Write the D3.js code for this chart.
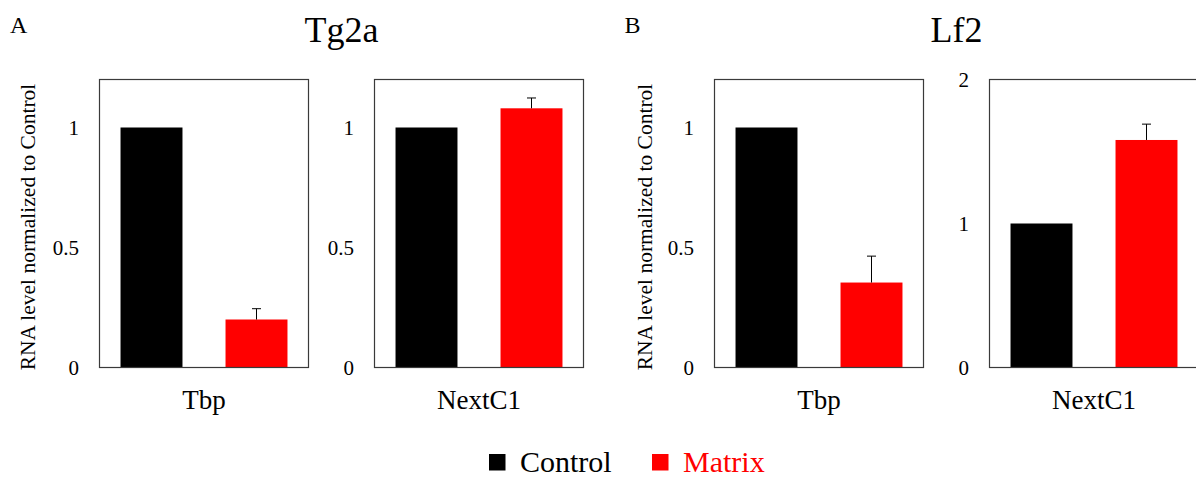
<!DOCTYPE html>
<html>
<head>
<meta charset="utf-8">
<script src="https://cdn.jsdelivr.net/npm/d3@7"></script>
<style>
  html, body { margin: 0; padding: 0; background: #fff; }
  svg { display: block; }
</style>
</head>
<body>
<svg id="chart" width="1196" height="478"></svg>
<script>
// ---- data ----
const series = ["Control", "Matrix"];
const seriesColors = ["#000000", "#ff0000"];
const panelLetters = ["A", "B"];
const panelTitles = ["Tg2a", "Lf2"];
const genes = ["Tbp", "NextC1"];
// values per panel (A, B), per gene (Tbp, NextC1): [Control, Matrix]
const tg2aTbp = [1.00, 0.20];
const tg2aTbpErr = [0, 0.045];
const tg2aNextC1 = [1.00, 1.08];
const tg2aNextC1Err = [0, 0.043];
const lf2Tbp = [1.00, 0.354];
const lf2TbpErr = [0, 0.11];
const lf2NextC1 = [1.00, 1.58];
const lf2NextC1Err = [0, 0.11];
const yDomains = [[0, 1.2], [0, 1.2], [0, 1.2], [0, 2]];
const yTicks = [[0, 0.5, 1], [0, 0.5, 1], [0, 0.5, 1], [0, 1, 2]];
const yTitle = "RNA level normalized to Control";

const subplots = [
  { gene: genes[0], values: tg2aTbp, errs: tg2aTbpErr },
  { gene: genes[1], values: tg2aNextC1, errs: tg2aNextC1Err },
  { gene: genes[0], values: lf2Tbp, errs: lf2TbpErr },
  { gene: genes[1], values: lf2NextC1, errs: lf2NextC1Err }
];

// ---- layout ----
const svg = d3.select("#chart");
const FONT = '"Liberation Serif"';
function txt(sel) { return sel.style("font-family", FONT); }
const frameLefts = [99, 374, 714, 989];
const frameTop = 79.5, frameH = 288, frameW = 210;

subplots.forEach((sp, i) => {
  const x0 = frameLefts[i];
  const g = svg.append("g").attr("transform", `translate(${x0},${frameTop})`);
  const x = d3.scaleBand().domain(series).range([0, frameW]).paddingInner(0.41).paddingOuter(0.205);
  const y = d3.scaleLinear().domain(yDomains[i]).range([frameH, 0]);

  g.selectAll("rect.bar").data(series).enter().append("rect")
    .attr("class", "bar")
    .attr("x", d => x(d))
    .attr("width", x.bandwidth())
    .attr("y", (d, j) => y(sp.values[j]))
    .attr("height", (d, j) => y(0) - y(sp.values[j]))
    .attr("fill", (d, j) => seriesColors[j]);

  series.forEach((s, j) => {
    if (!sp.errs[j]) return;
    const cx = x(s) + x.bandwidth() / 2;
    const yTop = y(sp.values[j] + sp.errs[j]);
    const yBar = y(sp.values[j]);
    g.append("line").attr("x1", cx).attr("x2", cx).attr("y1", yBar).attr("y2", yTop)
      .attr("stroke", "#000").attr("stroke-width", 1);
    g.append("line").attr("x1", cx - 4.5).attr("x2", cx + 4.5).attr("y1", yTop).attr("y2", yTop)
      .attr("stroke", "#000").attr("stroke-width", 1);
  });

  g.append("rect").attr("x", 0.5).attr("y", 0).attr("width", frameW - 1).attr("height", frameH)
    .attr("fill", "none").attr("stroke", "#3a3a3a").attr("stroke-width", 1.2);

  const ax = g.append("g").attr("transform", "translate(-20,0)")
    .call(d3.axisLeft(y).tickValues(yTicks[i]).tickSize(0).tickPadding(0).tickFormat(d => String(d)));
  ax.select(".domain").remove();
  txt(ax.selectAll("text")).style("font-size", "21px").attr("fill", "#000");

  txt(g.append("text")).attr("x", frameW / 2).attr("y", 409 - frameTop)
    .attr("text-anchor", "middle").style("font-size", "27px").attr("fill", "#000").text(sp.gene);
});

[35, 652].forEach(bx => {
  txt(svg.append("text"))
    .attr("transform", `translate(${bx},227) rotate(-90)`)
    .attr("text-anchor", "middle").style("font-size", "21.5px").attr("fill", "#000").text(yTitle);
});

panelTitles.forEach((t, k) => {
  const cx = k === 0 ? (frameLefts[0] + frameLefts[1] + frameW) / 2 : (frameLefts[2] + frameLefts[3] + frameW) / 2;
  txt(svg.append("text")).attr("x", cx).attr("y", 41.5).attr("text-anchor", "middle")
    .style("font-size", "36px").attr("fill", "#000").text(t);
});
panelLetters.forEach((l, k) => {
  txt(svg.append("text")).attr("x", k === 0 ? 10 : 624.5).attr("y", 33)
    .style("font-size", "24px").attr("fill", "#000").text(l);
});

const legendX = [489, 652];
series.forEach((s, j) => {
  svg.append("rect").attr("x", legendX[j]).attr("y", 454).attr("width", 16.5).attr("height", 16.5)
    .attr("fill", seriesColors[j]);
  txt(svg.append("text")).attr("x", legendX[j] + 31).attr("y", 471.5)
    .style("font-size", "30px").attr("fill", seriesColors[j]).text(s);
});
</script>
</body>
</html>
